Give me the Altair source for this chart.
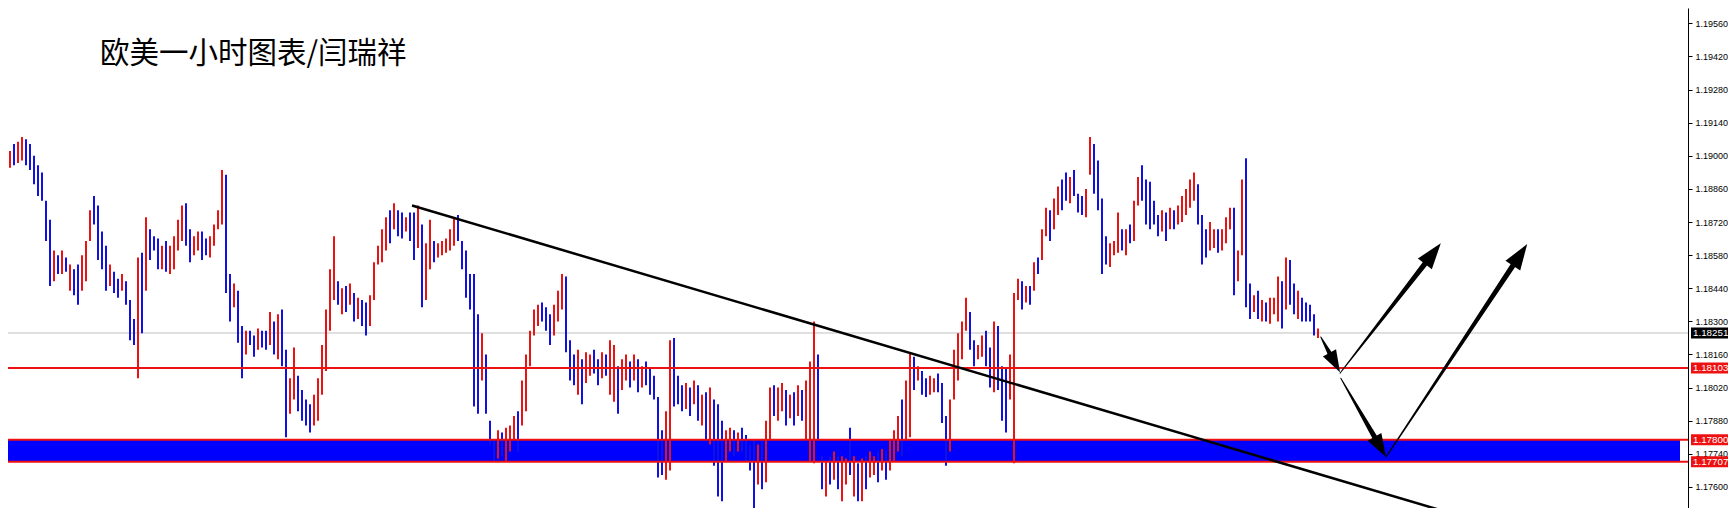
import math
import altair as alt
import pandas as pd

TITLE = "欧美一小时图表/闫瑞祥"

# ---- hourly bars (EURUSD, H1), high / low per bar, u = up bar (red), d = down bar (blue)
highs = [
    1.1911, 1.1907, 1.1902, 1.1905, 1.1906, 1.1908, 1.1907, 1.1905, 1.1900, 1.1896,
    1.1893, 1.1881, 1.1873, 1.1860, 1.1858, 1.1860, 1.1857, 1.1854, 1.1852, 1.1854,
    1.1858, 1.1864, 1.1877, 1.1883, 1.1879, 1.1868, 1.1862, 1.1854, 1.1851, 1.1848,
    1.1850, 1.1847, 1.1839, 1.1831, 1.1857, 1.1859, 1.1874, 1.1869, 1.1866, 1.1865,
    1.1862, 1.1864, 1.1862, 1.1866, 1.1873, 1.1879, 1.1880, 1.1869, 1.1866, 1.1868,
    1.1868, 1.1865, 1.1866, 1.1871, 1.1877, 1.1894, 1.1892, 1.1850, 1.1846, 1.1843,
    1.1828, 1.1826, 1.1826, 1.1824, 1.1827, 1.1826, 1.1826, 1.1834, 1.1830, 1.1833,
    1.1835, 1.1818, 1.1806, 1.1819, 1.1807, 1.1801, 1.1797, 1.1795, 1.1799, 1.1806,
    1.1820, 1.1835, 1.1852, 1.1866, 1.1847, 1.1844, 1.1845, 1.1846, 1.1842, 1.1840,
    1.1839, 1.1838, 1.1841, 1.1855, 1.1862, 1.1869, 1.1874, 1.1877, 1.1880, 1.1877,
    1.1876, 1.1874, 1.1876, 1.1876, 1.1879, 1.1871, 1.1863, 1.1873, 1.1864, 1.1863,
    1.1864, 1.1865, 1.1869, 1.1874, 1.1875, 1.1864, 1.1860, 1.1850, 1.1850, 1.1833,
    1.1825, 1.1816, 1.1788, 1.1780, 1.1784, 1.1783, 1.1785, 1.1786, 1.1790, 1.1792,
    1.1805, 1.1816, 1.1826, 1.1835, 1.1837, 1.1838, 1.1836, 1.1833, 1.1837, 1.1843,
    1.1850, 1.1849, 1.1822, 1.1816, 1.1818, 1.1814, 1.1817, 1.1816, 1.1818, 1.1814,
    1.1817, 1.1816, 1.1822, 1.1820, 1.1811, 1.1814, 1.1816, 1.1813, 1.1816, 1.1814,
    1.1811, 1.1813, 1.1810, 1.1807, 1.1798, 1.1784, 1.1792, 1.1822, 1.1823, 1.1807,
    1.1803, 1.1804, 1.1802, 1.1805, 1.1803, 1.1799, 1.1800, 1.1802, 1.1797, 1.1795,
    1.1788, 1.1784, 1.1785, 1.1784, 1.1783, 1.1785, 1.1782, 1.1778, 1.1780, 1.1778,
    1.1780, 1.1788, 1.1802, 1.1803, 1.1802, 1.1804, 1.1801, 1.1799, 1.1800, 1.1803,
    1.1801, 1.1805, 1.1813, 1.1830, 1.1816, 1.1773, 1.1771, 1.1773, 1.1775, 1.1773,
    1.1773, 1.1772, 1.1785, 1.1773, 1.1770, 1.1772, 1.1773, 1.1775, 1.1773, 1.1775,
    1.1776, 1.1775, 1.1780, 1.1784, 1.1790, 1.1797, 1.1805, 1.1817, 1.1815, 1.1811,
    1.1809, 1.1806, 1.1807, 1.1806, 1.1808, 1.1804, 1.1790, 1.1797, 1.1818, 1.1825,
    1.1830, 1.1840, 1.1834, 1.1822, 1.1820, 1.1824, 1.1826, 1.1819, 1.1830, 1.1828,
    1.1811, 1.1810, 1.1816, 1.1842, 1.1848, 1.1847, 1.1845, 1.1845, 1.1855, 1.1857,
    1.1869, 1.1878, 1.1877, 1.1882, 1.1887, 1.1890, 1.1893, 1.1891, 1.1894, 1.1884,
    1.1883, 1.1886, 1.1908, 1.1905, 1.1898, 1.1882, 1.1866, 1.1863, 1.1864, 1.1876,
    1.1869, 1.1869, 1.1871, 1.1881, 1.1891, 1.1896, 1.1890, 1.1889, 1.1881, 1.1875,
    1.1877, 1.1876, 1.1878, 1.1877, 1.1879, 1.1883, 1.1886, 1.1890, 1.1893, 1.1888,
    1.1875, 1.1869, 1.1872, 1.1869, 1.1869, 1.1869, 1.1874, 1.1878, 1.1878, 1.1860,
    1.1890, 1.1899, 1.1846, 1.1841, 1.1843, 1.1839, 1.1838, 1.1840, 1.1840, 1.1849,
    1.1847, 1.1857, 1.1856, 1.1846, 1.1843, 1.1840, 1.1838, 1.1837, 1.1833, 1.1827,
]
lows = [
    1.1899, 1.1893, 1.1895, 1.1896, 1.1897, 1.1898, 1.1896, 1.1894, 1.1888, 1.1883,
    1.1881, 1.1864, 1.1845, 1.1847, 1.1850, 1.1850, 1.1851, 1.1843, 1.1841, 1.1837,
    1.1843, 1.1847, 1.1864, 1.1871, 1.1856, 1.1852, 1.1843, 1.1845, 1.1842, 1.1840,
    1.1843, 1.1837, 1.1822, 1.1820, 1.1806, 1.1825, 1.1843, 1.1856, 1.1860, 1.1852,
    1.1852, 1.1851, 1.1850, 1.1852, 1.1860, 1.1864, 1.1862, 1.1855, 1.1858, 1.1860,
    1.1856, 1.1858, 1.1857, 1.1862, 1.1869, 1.1871, 1.1842, 1.1830, 1.1836, 1.1821,
    1.1806, 1.1816, 1.1820, 1.1815, 1.1818, 1.1819, 1.1818, 1.1820, 1.1816, 1.1814,
    1.1811, 1.1781, 1.1791, 1.1797, 1.1792, 1.1788, 1.1786, 1.1783, 1.1786, 1.1788,
    1.1799, 1.1809, 1.1826, 1.1839, 1.1837, 1.1833, 1.1834, 1.1837, 1.1830, 1.1831,
    1.1828, 1.1824, 1.1828, 1.1839, 1.1854, 1.1855, 1.1860, 1.1863, 1.1869, 1.1866,
    1.1865, 1.1868, 1.1864, 1.1856, 1.1861, 1.1836, 1.1839, 1.1852, 1.1855, 1.1857,
    1.1858, 1.1859, 1.1860, 1.1862, 1.1864, 1.1852, 1.1840, 1.1835, 1.1794, 1.1791,
    1.1805, 1.1791, 1.1778, 1.1771, 1.1772, 1.1773, 1.1771, 1.1775, 1.1780, 1.1775,
    1.1786, 1.1792, 1.1811, 1.1824, 1.1828, 1.1830, 1.1826, 1.1820, 1.1824, 1.1830,
    1.1835, 1.1817, 1.1805, 1.1803, 1.1799, 1.1795, 1.1804, 1.1807, 1.1808, 1.1803,
    1.1806, 1.1807, 1.1799, 1.1796, 1.1791, 1.1801, 1.1805, 1.1802, 1.1805, 1.1800,
    1.1802, 1.1803, 1.1799, 1.1797, 1.1764, 1.1765, 1.1763, 1.1767, 1.1794, 1.1795,
    1.1792, 1.1793, 1.1790, 1.1795, 1.1788, 1.1786, 1.1780, 1.1778, 1.1769, 1.1756,
    1.1754, 1.1771, 1.1775, 1.1773, 1.1775, 1.1775, 1.1771, 1.1767, 1.1751, 1.1761,
    1.1759, 1.1762, 1.1780, 1.1790, 1.1788, 1.1792, 1.1786, 1.1789, 1.1786, 1.1790,
    1.1788, 1.1780, 1.1771, 1.1770, 1.1780, 1.1759, 1.1756, 1.1761, 1.1763, 1.1759,
    1.1754, 1.1761, 1.1765, 1.1756, 1.1754, 1.1754, 1.1759, 1.1764, 1.1765, 1.1762,
    1.1767, 1.1763, 1.1767, 1.1771, 1.1775, 1.1773, 1.1780, 1.1781, 1.1801, 1.1805,
    1.1799, 1.1798, 1.1799, 1.1800, 1.1800, 1.1787, 1.1769, 1.1775, 1.1797, 1.1805,
    1.1814, 1.1826, 1.1818, 1.1811, 1.1814, 1.1815, 1.1811, 1.1802, 1.1800, 1.1801,
    1.1788, 1.1783, 1.1797, 1.1770, 1.1839, 1.1835, 1.1838, 1.1837, 1.1843, 1.1850,
    1.1856, 1.1866, 1.1864, 1.1869, 1.1875, 1.1877, 1.1881, 1.1880, 1.1883, 1.1876,
    1.1875, 1.1874, 1.1892, 1.1884, 1.1877, 1.1850, 1.1854, 1.1853, 1.1858, 1.1859,
    1.1860, 1.1858, 1.1863, 1.1864, 1.1879, 1.1881, 1.1871, 1.1869, 1.1871, 1.1866,
    1.1868, 1.1864, 1.1869, 1.1869, 1.1871, 1.1872, 1.1875, 1.1878, 1.1881, 1.1871,
    1.1854, 1.1857, 1.1860, 1.1861, 1.1859, 1.1860, 1.1863, 1.1869, 1.1841, 1.1847,
    1.1858, 1.1836, 1.1831, 1.1834, 1.1831, 1.1830, 1.1830, 1.1829, 1.1833, 1.1830,
    1.1827, 1.1835, 1.1837, 1.1833, 1.1831, 1.1830, 1.1830, 1.1830, 1.1824, 1.1823,
]
directions = (
    "ududuudddd" "dddudududd" "uuuddddudd" "udddududdd" "uduuuudduu"
    "dduuuuddud" "dudduddudu" "dduudddduu" "uuuudududu" "dduuuuudud"
    "dudduduudu" "uuuudddddd" "uddduduuud" "uuuuuddduu" "uddduduudd"
    "uduuduudud" "uddddduudd" "dududududd" "duududdddu" "duuduududu"
    "duuuddudud" "uudududuud" "uduuuduudu" "dduuddduuu" "uudduuddud"
    "dduuududud" "uuduuddudd" "duudddduuu" "duduuddddd" "ududuuuuud"
    "dduuduuudu" "uddududuuu" "dudduddddu"
)

# ---- horizontal levels
bid_price = 1.18251
level_prices = [1.18103, 1.17800, 1.17707]
zone_low, zone_high = 1.17707, 1.17800
zone_start_bar, zone_end_bar = -5.0, 419.5

axis_ticks = [1.19560, 1.19420, 1.19280, 1.19140, 1.19000, 1.18860, 1.18720,
              1.18580, 1.18440, 1.18300, 1.18160, 1.18020, 1.17880, 1.17740, 1.17600]

# ---- trend line (bar index, price)
trend_bar = [102.5, 370.0]
trend_price = [1.1879, 1.1745]

# ---- forecast arrows (bar index, price)
arrow_start_bar = [329.7, 334.5, 334.7, 346.0]
arrow_start_price = [1.18234, 1.18081, 1.18060, 1.17726]
arrow_tip_bar = [334.5, 359.7, 346.0, 381.3]
arrow_tip_price = [1.18085, 1.18630, 1.17727, 1.18627]

# ---- styling
RED_BAR = "#e81414"
BLUE_BAR = "#1212e0"
RED_LINE = "#ee1111"
ZONE_BLUE = "#0000ff"
AX_FONT = "Liberation Sans"
W, H = 1680, 500
X_DOM = [1.5, 421.5]
Y_DOM = [1.17511, 1.19625]
head_len = [22, 26, 23, 26]
ARROW_PATH = "M0,0L0.34,1L-0.34,1Z"

assert len(highs) == len(lows) == len(directions)

XS = alt.Scale(domain=X_DOM, nice=False, zero=False)
YS = alt.Scale(domain=Y_DOM, nice=False, zero=False)
YAX = alt.Axis(
    orient="right", values=axis_ticks, format=".5f", title=None, grid=False,
    domainColor="black", domainWidth=1, tickColor="black", tickSize=4, tickWidth=1,
    labelPadding=3, labelFont=AX_FONT, labelFontSize=9, labelColor="black",
    labelOverlap=False, labelFlush=False)


def ypos(field):
    return alt.Y(field, scale=YS, axis=YAX)


def xpos(field):
    return alt.X(field, scale=XS, axis=None)


bars_df = pd.DataFrame({
    "bar": list(range(len(highs))),
    "high": highs,
    "low": lows,
    "dir": list(directions),
})

zone_df = pd.DataFrame({"x1": [zone_start_bar], "x2": [zone_end_bar],
                        "lo": [zone_low], "hi": [zone_high]})
bid_df = pd.DataFrame({"price": [bid_price]})
levels_df = pd.DataFrame({"price": level_prices})
trend_df = pd.DataFrame({"bar": trend_bar, "price": trend_price})

kx = W / (X_DOM[1] - X_DOM[0])
ky = H / (Y_DOM[1] - Y_DOM[0])
trail_rows, head_rows = [], []
for k in range(len(arrow_start_bar)):
    sb, sp = arrow_start_bar[k], arrow_start_price[k]
    tb, tp = arrow_tip_bar[k], arrow_tip_price[k]
    dx = (tb - sb) * kx
    dy = -(tp - sp) * ky
    length = math.hypot(dx, dy)
    ang = math.degrees(math.atan2(dx, -dy)) % 360
    hl = head_len[k]
    f1 = max(0.0, 1 - 0.75 * hl / length)
    f2 = 1 - 0.3 * hl / length
    for seq, (f, w) in enumerate([(0.0, 1.0), (f1, 5.5), (f2, 2.5)]):
        trail_rows.append({"arrow": k, "seq": seq, "bar": sb + f * (tb - sb),
                           "price": sp + f * (tp - sp), "w": w})
    head_rows.append({"bar": tb, "price": tp, "ang": ang, "sz": (2 * hl) ** 2})
trail_df = pd.DataFrame(trail_rows)
head_df = pd.DataFrame(head_rows)

tag_df = pd.DataFrame({
    "price": [bid_price] + level_prices,
    "kind": ["bid"] + ["level"] * len(level_prices),
})
tag_df["label"] = tag_df["price"].map(lambda v: f"{v:.5f}")

title_df = pd.DataFrame({"t": [TITLE]})

zone = alt.Chart(zone_df).mark_rect(color=ZONE_BLUE, clip=True).encode(
    x=xpos("x1:Q"), x2="x2:Q", y=ypos("lo:Q"), y2="hi:Q")

bid_line = alt.Chart(bid_df).mark_rule(color="#c0c0c0", strokeWidth=1).encode(
    y=ypos("price:Q"))

bars = alt.Chart(bars_df).mark_rule(strokeWidth=2, clip=True, strokeCap="butt").encode(
    x=xpos("bar:Q"), y=ypos("high:Q"), y2="low:Q",
    color=alt.Color("dir:N", scale=alt.Scale(domain=["u", "d"], range=[RED_BAR, BLUE_BAR]),
                    legend=None))

levels = alt.Chart(levels_df).mark_rule(color=RED_LINE, strokeWidth=2).encode(
    y=ypos("price:Q"))

trend = alt.Chart(trend_df).mark_line(color="black", strokeWidth=2.5, clip=True).encode(
    x=xpos("bar:Q"), y=ypos("price:Q"))

trails = alt.Chart(trail_df).mark_trail(color="black").encode(
    x=xpos("bar:Q"), y=ypos("price:Q"),
    size=alt.Size("w:Q", scale=None, legend=None),
    detail="arrow:N", order="seq:Q")

heads = alt.Chart(head_df).mark_point(shape=ARROW_PATH, filled=True, color="black",
                                      opacity=1, strokeWidth=0).encode(
    x=xpos("bar:Q"), y=ypos("price:Q"),
    angle=alt.Angle("ang:Q", scale=None),
    size=alt.Size("sz:Q", scale=None, legend=None))

title = alt.Chart(title_df).mark_text(
    font="Noto Sans CJK SC", fontSize=29.5, align="left", baseline="alphabetic",
    color="black").encode(x=alt.value(92), y=alt.value(55), text="t:N")

tag_boxes = alt.Chart(tag_df).mark_rule(strokeWidth=11, strokeCap="butt").encode(
    x=alt.value(W + 3), x2=alt.value(W + 42),
    y=ypos("price:Q"),
    color=alt.Color("kind:N", scale=alt.Scale(domain=["bid", "level"], range=["black", RED_LINE]),
                    legend=None))

tag_text = alt.Chart(tag_df).mark_text(
    font=AX_FONT, fontSize=9.8, align="left", baseline="middle", color="white").encode(
    x=alt.value(W + 5), y=ypos("price:Q"), text="label:N")

chart = alt.layer(
    zone, bid_line, bars, levels, trend, trails, heads, title, tag_boxes, tag_text
).resolve_scale(color="independent").properties(
    width=W, height=H,
    padding={"left": 0, "top": 0, "right": 40, "bottom": 0},
    autosize=alt.AutoSizeParams(type="none"),
    background="white",
).configure_view(strokeWidth=0)

chart.save("out.html", embed_options={"renderer": "svg", "actions": False})
